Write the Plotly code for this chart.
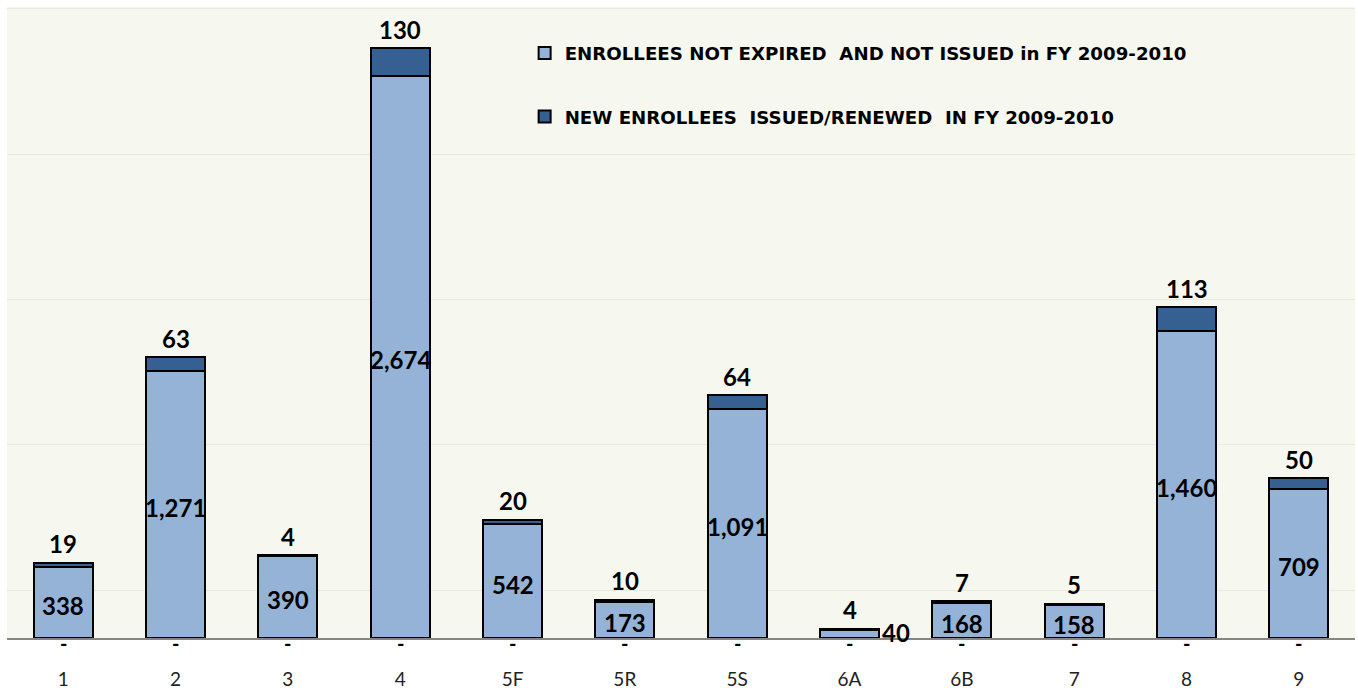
import plotly.graph_objects as go

categories = ["1", "2", "3", "4", "5F", "5R", "5S", "6A", "6B", "7", "8", "9"]
not_expired = [338, 1271, 390, 2674, 542, 173, 1091, 40, 168, 158, 1460, 709]
new_issued = [19, 63, 4, 130, 20, 10, 64, 4, 7, 5, 113, 50]
other_zero = [0, 0, 0, 0, 0, 0, 0, 0, 0, 0, 0, 0]

name_light = "ENROLLEES NOT EXPIRED  AND NOT ISSUED in FY 2009-2010"
name_dark = "NEW ENROLLEES  ISSUED/RENEWED  IN FY 2009-2010"

LIGHT = "#95b3d7"
DARK = "#366092"
FONT = "Lato"

fig = go.Figure()
fig.add_trace(go.Bar(x=categories, y=not_expired, name=name_light,
                     marker=dict(color=LIGHT, line=dict(color="black", width=2)),
                     legend="legend"))
fig.add_trace(go.Bar(x=categories, y=new_issued, name=name_dark,
                     marker=dict(color=DARK, line=dict(color="black", width=2)),
                     legend="legend2"))

lab_font = dict(family=FONT, size=24, color="black", weight="bold")
ann = []
px_per_unit = 631 / 3000
for i, (a, b, z) in enumerate(zip(not_expired, new_issued, other_zero)):
    # inner label of light segment
    if a * px_per_unit < 20:
        ann.append(dict(x=i, y=0, text=f"{a:,}", showarrow=False, xanchor="left",
                        yanchor="middle", xshift=30, yshift=6, font=lab_font))
    else:
        ann.append(dict(x=i, y=a / 2, text=f"{a:,}", showarrow=False,
                        yanchor="middle", yshift=-3, font=lab_font))
    # top label
    ann.append(dict(x=i, y=a + b, text=f"{b:,}", showarrow=False,
                    yanchor="middle", yshift=19, font=lab_font))
    # zero-series label
    ann.append(dict(x=i, y=0, text="-" if z == 0 else f"{z:,}", showarrow=False,
                    yanchor="middle", yshift=-5,
                    font=dict(family=FONT, size=20, color="black", weight="bold")))

leg_font = dict(family="DejaVu Sans", size=18.2, color="black", weight="bold")
fig.update_layout(
    width=1358, height=690,
    barmode="stack", bargap=0.475,
    paper_bgcolor="white", plot_bgcolor="#f6f8f0",
    margin=dict(l=7, r=3, t=7, b=52),
    showlegend=True,
    legend=dict(x=0.384, y=0.927, xanchor="left", yanchor="middle", font=leg_font,
                bgcolor="rgba(0,0,0,0)"),
    legend2=dict(x=0.384, y=0.826, xanchor="left", yanchor="middle", font=leg_font,
                 bgcolor="rgba(0,0,0,0)"),
    annotations=ann,
    xaxis=dict(type="category", showline=True, linecolor="#868686", linewidth=2,
               showgrid=False, ticks="", ticklabelstandoff=23, automargin=False,
               tickfont=dict(family=FONT, size=19, color="#222222")),
    yaxis=dict(range=[0, 3000], tick0=228, dtick=691, showticklabels=False,
               gridcolor="#e6ecd8", gridwidth=1, zeroline=False, showline=False,
               automargin=False),
)

fig.write_html("out.html", config={"displayModeBar": False},
               post_script="document.body.style.margin='0';document.body.style.overflow='hidden';")
